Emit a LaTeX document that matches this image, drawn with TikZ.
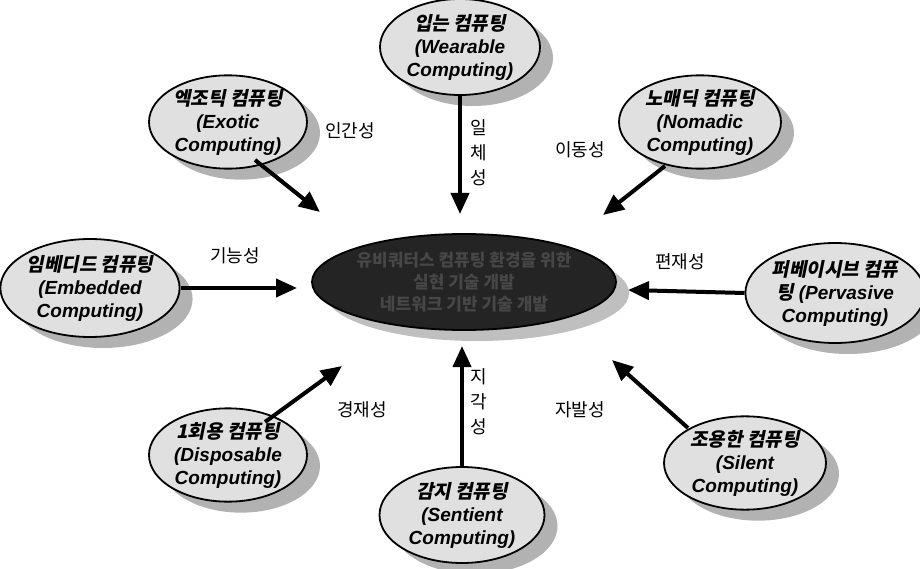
\documentclass[tikz,border=0pt]{standalone}
\usepackage{fontspec}
\setmainfont{Liberation Sans}
\newfontfamily\kr{Noto Sans CJK KR}
\newfontfamily\krsl[FakeSlant=0.2]{Noto Sans CJK KR}
\usetikzlibrary{shapes.geometric,shadows,arrows.meta}
\begin{document}
\begin{tikzpicture}[x=1pt,y=-1pt,
  sat/.style={ellipse, draw=black, line width=1.8pt, fill=gray!24,
    drop shadow={shadow xshift=13pt,shadow yshift=-11pt,fill=gray!60,opacity=1},
    inner sep=0pt, align=center,
    font=\bfseries\itshape\fontsize{19}{23}\selectfont},
  hub/.style={ellipse, draw=black, line width=1.8pt, fill=black!86,
    drop shadow={shadow xshift=13pt,shadow yshift=-11pt,fill=gray!50,opacity=1},
    inner sep=0pt, align=center, text=black!72,
    font=\kr\bfseries\fontsize{17}{22}\selectfont},
  arr/.style={line width=4pt, -{Triangle[width=18pt,length=21pt]}},
  lab/.style={inner sep=0pt, font=\kr\fontsize{18}{20}\selectfont},
  vlab/.style={inner sep=0pt, align=center, font=\kr\fontsize{18}{25}\selectfont}
]
\useasboundingbox (0,0) rectangle (920,569);

\node[hub, minimum width=304pt, minimum height=96pt] (hub) at (464,282)
  {유비쿼터스 컴퓨팅 환경을 위한\\ 실현 기술 개발\\ 네트워크 기반 기술 개발};

\node[sat, minimum width=160pt, minimum height=96pt] (wear) at (460,47)
  {{\krsl 입는 컴퓨팅}\\(Wearable\\Computing)};
\node[sat, minimum width=158pt, minimum height=86pt] (exo) at (228,122)
  {{\krsl 엑조틱 컴퓨팅}\\(Exotic\\Computing)};
\node[sat, minimum width=162pt, minimum height=88pt] (nom) at (700,122)
  {{\krsl 노매딕 컴퓨팅}\\(Nomadic\\Computing)};
\node[sat, minimum width=168pt, minimum height=98pt] (emb) at (90,288)
  {{\krsl 임베디드 컴퓨팅}\\(Embedded\\Computing)};
\node[sat, minimum width=165pt, minimum height=100pt] (per) at (835,293)
  {{\krsl 퍼베이시브 컴퓨}\\{\krsl 팅} (Pervasive\\Computing)};
\node[sat, minimum width=158pt, minimum height=88pt] (dis) at (228,455)
  {{\krsl 1회용 컴퓨팅}\\(Disposable\\Computing)};
\node[sat, minimum width=165pt, minimum height=96pt] (sen) at (462,515)
  {{\krsl 감지 컴퓨팅}\\(Sentient\\Computing)};
\node[sat, minimum width=162pt, minimum height=92pt] (sil) at (745,463)
  {{\krsl 조용한 컴퓨팅}\\(Silent\\Computing)};

\coordinate (tw) at (460,214);
\coordinate (te) at (320,212);
\coordinate (tn) at (603,215);
\coordinate (tm) at (297,288);
\coordinate (tp) at (628,290);
\coordinate (td) at (342,366);
\coordinate (ts) at (462,346);
\coordinate (tl) at (612,360);
\coordinate (se) at (255,160);
\coordinate (sn) at (665,166);
\coordinate (sd) at (265,422);
\coordinate (sl) at (688,428);

\draw[arr] (wear.south) -- (tw);
\draw[arr] (se) -- (te);
\draw[arr] (sn) -- (tn);
\draw[arr] (emb.east) -- (tm);
\draw[arr] (per.west) -- (tp);
\draw[arr] (sd) -- (td);
\draw[arr] (sen.north) -- (ts);
\draw[arr] (sl) -- (tl);

\node[vlab] (l1) at (479,153) {일\\체\\성};
\node[lab] (l2) at (350,131) {인간성};
\node[lab] (l3) at (580,150) {이동성};
\node[lab] (l4) at (235,256) {기능성};
\node[lab] (l5) at (680,262) {편재성};
\node[lab] (l6) at (362,410) {경재성};
\node[lab] (l7) at (580,410) {자발성};
\node[vlab] (l8) at (479,402) {지\\각\\성};
\end{tikzpicture}
\end{document}
